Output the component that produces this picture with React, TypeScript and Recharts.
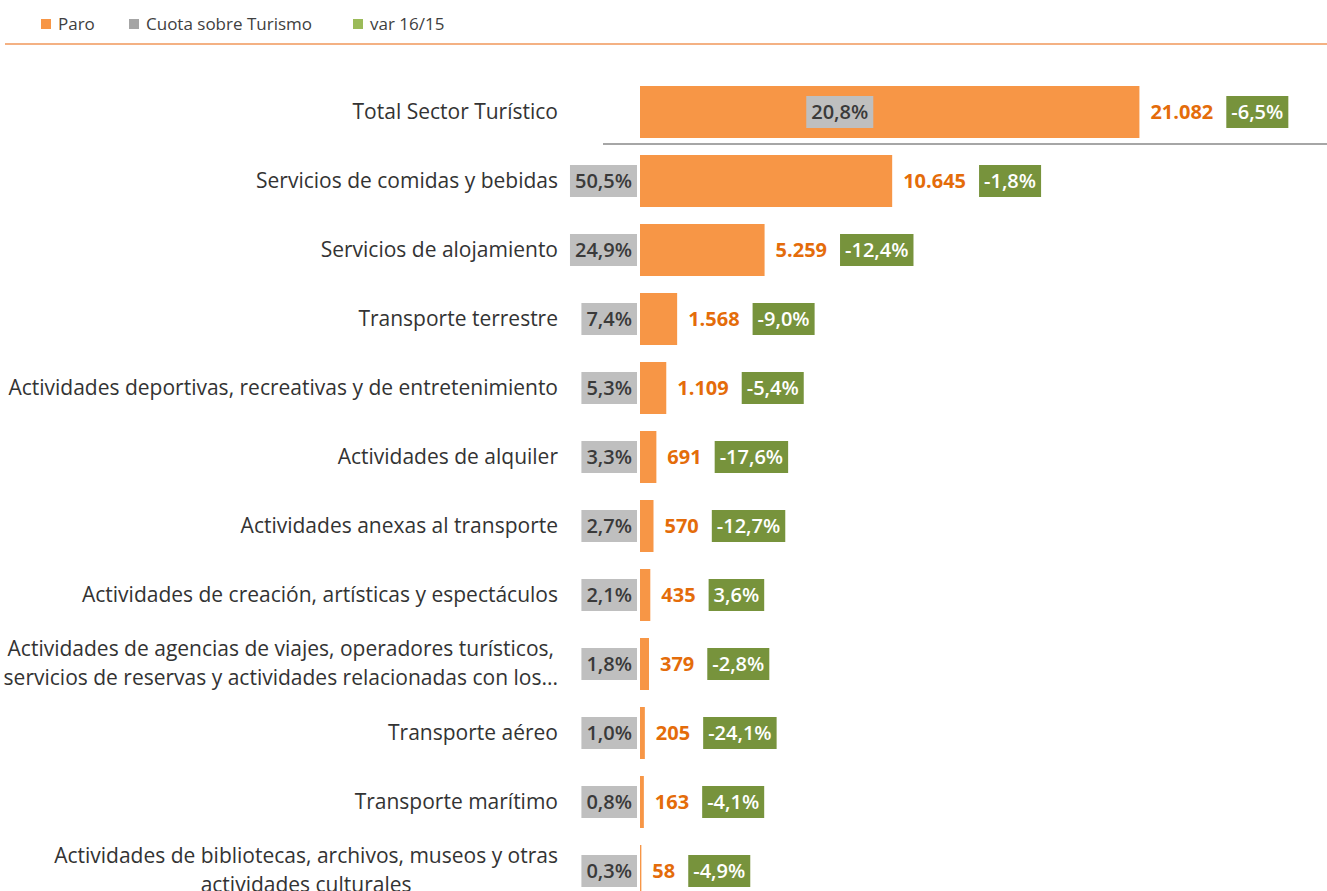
import React from "react";
import { BarChart, Bar, XAxis, YAxis, LabelList } from "recharts";

const categories = [
  "Total Sector Turístico",
  "Servicios de comidas y bebidas",
  "Servicios de alojamiento",
  "Transporte terrestre",
  "Actividades deportivas, recreativas y de entretenimiento",
  "Actividades de alquiler",
  "Actividades anexas al transporte",
  "Actividades de creación, artísticas y espectáculos",
  "Actividades de agencias de viajes, operadores turísticos,\nservicios de reservas y actividades relacionadas con los...",
  "Transporte aéreo",
  "Transporte marítimo",
  "Actividades de bibliotecas, archivos, museos y otras\nactividades culturales",
];
const paro = [21082, 10645, 5259, 1568, 1109, 691, 570, 435, 379, 205, 163, 58];
const cuota = [20.8, 50.5, 24.9, 7.4, 5.3, 3.3, 2.7, 2.1, 1.8, 1.0, 0.8, 0.3];
const variacion = [-6.5, -1.8, -12.4, -9.0, -5.4, -17.6, -12.7, 3.6, -2.8, -24.1, -4.1, -4.9];

const data = categories.map((name, i) => ({ name, paro: paro[i] }));

const FONT = "'Open Sans', sans-serif";
const ORANGE = "#F79646";
const ORANGE_TEXT = "#E46C0A";
const GRAY_BOX = "#BFBFBF";
const GREEN_BOX = "#77933C";

const pct = (v: number) => v.toFixed(1).replace(".", ",") + "%";
const miles = (v: number) => String(v).replace(/\B(?=(\d{3})+(?!\d))/g, ".");

let ctx: CanvasRenderingContext2D | null = null;
const measure = (text: string, font: string) => {
  if (!ctx) ctx = document.createElement("canvas").getContext("2d");
  if (!ctx) return text.length * 10;
  ctx.font = font;
  return ctx.measureText(text).width;
};

const CategoryTick = (props: any) => {
  const { x, y, payload } = props;
  const lines: string[] = String(payload.value).split("\n");
  const size = 21;
  if (lines.length === 1) {
    return (
      <text x={x} y={y} dy={7} textAnchor="end" fontFamily={FONT} fontSize={size} fill="#333">
        {lines[0]}
      </text>
    );
  }
  const w = Math.max(...lines.map((l) => measure(l, `${size}px ${FONT}`)));
  return (
    <g>
      {lines.map((l, i) => (
        <text
          key={i}
          x={x - w / 2}
          y={y + (i - (lines.length - 1) / 2) * 29}
          dy={7}
          textAnchor="middle"
          fontFamily={FONT}
          fontSize={size}
          fill="#333"
        >
          {l}
        </text>
      ))}
    </g>
  );
};

const BarLabels = (props: any) => {
  const { x, y, width, height, index } = props;
  const cy = y + height / 2;
  const boxH = 32;
  const size = 20;
  const cuotaTxt = pct(cuota[index]);
  const cuotaW = measure(cuotaTxt, `600 ${size}px ${FONT}`) + 10;
  const cuotaX = index === 0 ? x + width * 0.4 - cuotaW / 2 : x - cuotaW - 3;
  const valTxt = miles(paro[index]);
  const valX = x + width + 11;
  const valW = measure(valTxt, `bold ${size}px ${FONT}`);
  const varTxt = pct(variacion[index]);
  const varW = measure(varTxt, `600 ${size}px ${FONT}`) + 10;
  const varX = valX + valW + 13;
  return (
    <g>
      <rect x={cuotaX} y={cy - boxH / 2} width={cuotaW} height={boxH} fill={GRAY_BOX} />
      <text x={cuotaX + cuotaW / 2} y={cy} dy={7} textAnchor="middle" fontFamily={FONT} fontSize={size} fontWeight={600} fill="#3A3A3A">
        {cuotaTxt}
      </text>
      <text x={valX} y={cy} dy={7} fontFamily={FONT} fontSize={size} fontWeight={700} fill={ORANGE_TEXT}>
        {valTxt}
      </text>
      <rect x={varX} y={cy - boxH / 2} width={varW} height={boxH} fill={GREEN_BOX} />
      <text x={varX + varW / 2} y={cy} dy={7} textAnchor="middle" fontFamily={FONT} fontSize={size} fontWeight={600} fill="#ffffff">
        {varTxt}
      </text>
    </g>
  );
};

const legendItems = [
  { label: "Paro", color: ORANGE, left: 41 },
  { label: "Cuota sobre Turismo", color: "#A5A5A5", left: 129 },
  { label: "var 16/15", color: "#9BBB59", left: 353 },
];

export default function App() {
  return (
    <div style={{ position: "absolute", left: 0, top: 0, width: 1327, height: 891, overflow: "hidden", background: "#fff", fontFamily: FONT }}>
      {legendItems.map((it) => (
        <div
          key={it.label}
          style={{
            position: "absolute",
            top: 12,
            left: it.left,
            display: "flex",
            alignItems: "center",
            fontSize: 17,
            color: "#404040",
            lineHeight: "24px",
            whiteSpace: "nowrap",
          }}
        >
          <span style={{ width: 10, height: 10, background: it.color, marginRight: 7, display: "inline-block" }} />
          {it.label}
        </div>
      ))}
      <div style={{ position: "absolute", top: 43, left: 5, right: 0, height: 2, background: "#F4B183" }} />
      <div style={{ position: "absolute", top: 143, left: 603, right: 0, height: 2, background: "#A6A6A6" }} />
      <BarChart
        width={1327}
        height={905}
        data={data}
        layout="vertical"
        margin={{ top: 77, right: 0, left: 0, bottom: 0 }}
        barCategoryGap={17}
      >
        <XAxis type="number" hide domain={[0, 29000]} />
        <YAxis
          type="category"
          dataKey="name"
          width={640}
          axisLine={false}
          tickLine={false}
          tickSize={0}
          tickMargin={82}
          interval={0}
          tick={<CategoryTick />}
        />
        <Bar dataKey="paro" fill={ORANGE} barSize={52} isAnimationActive={false}>
          <LabelList dataKey="paro" content={<BarLabels />} />
        </Bar>
      </BarChart>
    </div>
  );
}
